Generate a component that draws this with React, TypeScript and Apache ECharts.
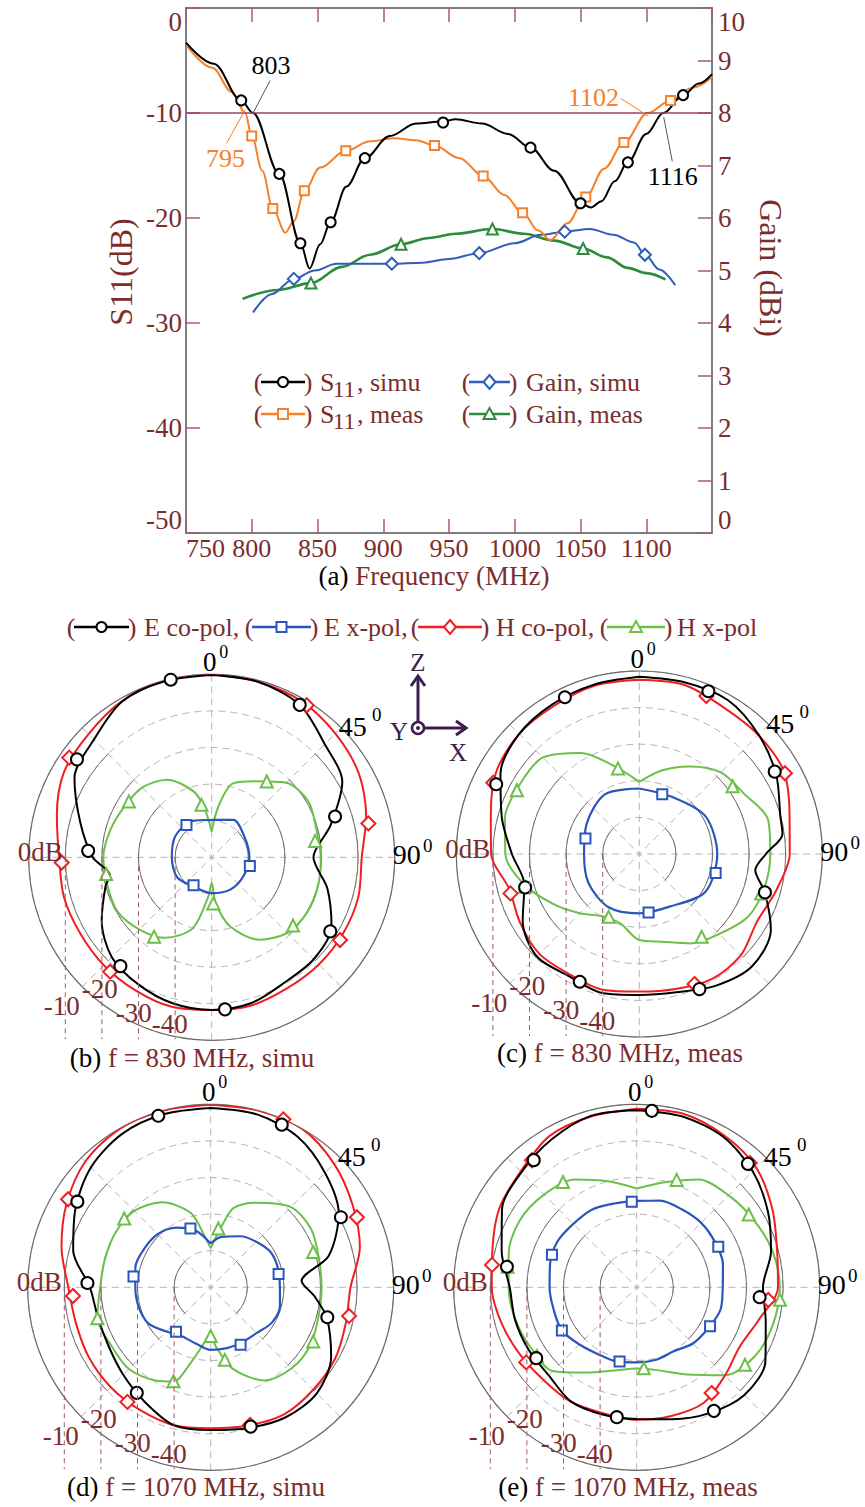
import React, { useEffect, useRef } from 'react';
import * as echarts from 'echarts';

const FONT = '"Liberation Serif", "Times New Roman", Times, serif';
const MAROON = '#7B2D2D';
const TICK = '#A25C72';
const FRAME = '#7F7F7F';
const REF_LINE = '#9C4463';
const C_BLACK = '#000000';
const C_ORANGE = '#F5812B';
const C_BLUE_A = '#2F5DB7';
const C_GREEN_A = '#2E8B3D';
const C_BLUE = '#2B55BD';
const C_RED = '#F01E23';
const C_GREEN = '#6CBF48';
const C_AXIS = '#3B1E4B';

// ---------- (a) S11 / Gain vs frequency ----------
const freqTicks = [750, 800, 850, 900, 950, 1000, 1050, 1100, 1150];
const s11SimuFreq = [750, 771, 792, 801, 821, 837, 844, 852, 860, 872, 886, 905, 925, 945, 955, 975, 995, 1012, 1030, 1050, 1058, 1066, 1076, 1086, 1100, 1113, 1128, 1140, 1150];
const s11SimuDb = [-3.3, -5.3, -8.8, -10, -15.8, -22.4, -24.8, -22.5, -20.4, -17.0, -14.3, -12.2, -11.0, -10.8, -10.6, -11.0, -12.0, -13.3, -15.5, -18.6, -19.0, -18.4, -16.5, -14.7, -12.0, -10, -8.3, -7.2, -6.3];
const s11MeasFreq = [750, 770, 785, 795, 800, 808, 816, 825.5, 832, 840, 852, 871.5, 890, 908, 925, 939, 958, 976, 992, 1006, 1018, 1027, 1040, 1054, 1068, 1083, 1101, 1118.5, 1135, 1150];
const s11MeasDb = [-3.5, -5.7, -8.0, -10, -12.2, -15.5, -19.1, -21.4, -20.3, -17.4, -15.2, -13.6, -12.7, -12.4, -12.6, -13.1, -14.3, -16.0, -17.8, -19.5, -21.2, -22.1, -20.5, -18.0, -15.3, -12.8, -10, -8.8, -7.6, -6.6];
const gainSimuFreq = [801, 815, 832, 848, 864.5, 885, 906.5, 930, 950, 973, 1000, 1020, 1038, 1057, 1075, 1091, 1099, 1110, 1122];
const gainSimuDbi = [4.2, 4.55, 4.84, 5.0, 5.13, 5.13, 5.13, 5.15, 5.22, 5.33, 5.52, 5.68, 5.74, 5.79, 5.68, 5.53, 5.3, 5.02, 4.72];
const gainMeasFreq = [793, 820, 845, 868.6, 890, 913.5, 935, 955, 983, 1007, 1030, 1052, 1070, 1086, 1100, 1114.6];
const gainMeasDbi = [4.46, 4.63, 4.76, 5.07, 5.3, 5.5, 5.62, 5.7, 5.79, 5.7, 5.57, 5.42, 5.25, 5.05, 4.95, 4.83];

const s11SimuMarkF = [792, 821, 837, 860, 886, 945.5, 1012, 1050, 1086, 1128];
const s11SimuMarkDb = [-8.8, -15.8, -22.4, -20.4, -14.3, -10.9, -13.3, -18.6, -14.7, -8.3];
const s11MeasMarkF = [800, 816, 840, 871.5, 939, 976, 1006, 1054, 1083, 1118.5];
const s11MeasMarkDb = [-12.2, -19.1, -17.4, -13.6, -13.1, -16.0, -19.5, -18.0, -12.8, -8.8];
const gainSimuMarkF = [832, 906.5, 973, 1038, 1099];
const gainSimuMarkDbi = [4.84, 5.13, 5.33, 5.74, 5.3];
const gainMeasMarkF = [845, 913.5, 983, 1052];
const gainMeasMarkDbi = [4.76, 5.5, 5.79, 5.42];

const refLevelDb = -10;
const annTexts = ['803', '795', '1102', '1116'];
const annFrom = [[801, -10], [795, -9.7], [1101.5, -10.3], [1113.3, -10.4]];
const annTo = [[814, -6.9], [780.7, -12.9], [1080.6, -8.6], [1119.8, -14.6]];
const annColors = [C_BLACK, C_ORANGE, C_ORANGE, C_BLACK];
const annLineColors = ['#555555', C_ORANGE, C_ORANGE, '#555555'];

// ---------- polar patterns (dB vs angle) ----------
const ang15 = [0, 15, 30, 45, 60, 75, 90, 105, 120, 135, 150, 165, 180, 195, 210, 225, 240, 255, 270, 285, 300, 315, 330, 345];
const ang30 = [0, 30, 60, 90, 120, 150, 180, 210, 240, 270, 300, 330];
const radialTicks = [-10, -20, -30, -40];

// (b) 830 MHz simu
const bEcoAng = [0, 15, 30, 45, 60, 75, 90, 105, 120, 135, 150, 165, 180, 195, 210, 225, 240, 255, 260, 270, 285, 300, 315, 330, 345];
const bEcoDb = [-0.2, -0.4, -1.9, -6.3, -8.8, -16.4, -22.2, -17.3, -12.2, -10.6, -10.4, -8.7, -8.3, -8.7, -9.9, -11.4, -15.3, -20, -21.8, -17.5, -12.8, -6.7, -4.5, -0.9, -0.2];
const bHcoDb = [0, -0.4, -0.8, -2.2, -3.7, -6.3, -9.0, -8.5, -8.5, -8.6, -8.7, -8.1, -8.3, -7.7, -8.1, -8.3, -8.5, -8.2, -8.3, -6.2, -3.4, -2.4, -0.8, 0];
const bHxAng = [0, 7.5, 16, 30, 45, 60, 75, 90, 105, 120, 135, 150, 165, 175, 180, 185, 195, 210, 225, 240, 255, 270, 285, 300, 315, 330, 345, 352, 360];
const bHxDb = [-43, -36, -29, -26, -21.2, -19.5, -20.4, -20.2, -19.9, -19.9, -20.8, -24, -30.4, -37.4, -43, -39.2, -29.9, -24.6, -22.1, -20.3, -20.5, -20.4, -21.3, -22.4, -23.1, -25.5, -31.5, -36.9, -43];
const bExDb = [-39.8, -38.2, -39.5, -39.7, -39.9, -39.8, -40.2, -40.6, -39.1, -39.1, -38.5, -38.7];
const bEcoMarkA = [347, 30, 71.7, 122, 175, 220, 273, 306];
const bEcoMarkDb = [-0.2, -1.9, -14.5, -11.8, -8.3, -11.2, -16.2, -4.5];
const bExMarkA = [322, 103, 213];
const bExMarkDb = [-38.8, -39.3, -40.9];
const bHcoMarkA = [32, 77.8, 122.8, 221.6, 268, 305];
const bHcoMarkDb = [-1.0, -6.2, -8.3, -8.2, -9.0, -2.5];
const bHxMarkA = [36, 81, 130, 178, 216, 261, 304, 349];
const bHxMarkDb = [-24.4, -21.4, -21, -37.4, -23.2, -20.8, -22.7, -35.4];

// (c) 830 MHz meas
const cEcoAng = [0, 15, 30, 45, 60, 75, 82, 90, 98, 107, 120, 135, 150, 165, 180, 195, 210, 225, 240, 255, 270, 285, 300, 315, 330, 345];
const cEcoDb = [-1.6, -1.5, -1.5, -3.9, -6.8, -10.1, -10.5, -15.4, -18, -14.1, -8.5, -6.5, -8.4, -10.9, -11.5, -10.7, -11.5, -10.4, -13.2, -17.5, -15.2, -11.1, -6.2, -3.6, -2.7, -2.1];
const cHcoDb = [-2.4, -2.2, -3.8, -4.0, -4.5, -7.5, -8.9, -11.3, -12.9, -10.8, -10.5, -11.8, -12.4, -11.6, -12.0, -11.4, -12.4, -13.2, -9.5, -8.0, -4.9, -3.6, -3.3, -2.4];
const cHxDb = [-30.3, -26.4, -22.4, -18.5, -17, -13.6, -14.2, -14.6, -15.7, -19.1, -21.8, -25.2, -26.5, -30.3, -30.3, -27.1, -22.8, -17.5, -13.4, -12, -12.2, -12.7, -18.1, -25.4];
const cExDb = [-32.1, -32, -29.2, -28.7, -29.2, -33.4, -33.8, -33.2, -34, -34.9, -33.4, -31.2];
const cEcoMarkA = [23, 58.7, 107, 156, 205, 253.7, 296, 334.6];
const cEcoMarkDb = [-1.7, -6.7, -14.1, -9.6, -11.5, -17.5, -6.5, -2.6];
const cExMarkA = [21, 104, 171, 286];
const cExMarkDb = [-32.5, -28.5, -33.8, -34.7];
const cHcoMarkA = [23, 61, 157, 253, 296];
const cHcoMarkDb = [-3.1, -4.5, -11.4, -13.2, -5.6];
const cHxMarkA = [54, 108, 143, 206, 254, 297.5, 346];
const cHxMarkDb = [-18.5, -15, -21.7, -30.9, -17.5, -12.3, -25.9];

// (d) 1070 MHz simu
const dEcoAng = [0, 15, 30, 45, 60, 75, 86, 95, 105, 120, 135, 150, 165, 180, 195, 210, 225, 240, 255, 270, 285, 300, 315, 330, 345];
const dEcoDb = [-1.0, -1.1, -2.5, -5.8, -9.6, -16.6, -25.1, -21.5, -17.1, -12, -9.0, -9.0, -10.2, -11, -11, -13.9, -16.2, -17.8, -18.1, -17, -11.1, -7.3, -3.7, -1.6, -1.0];
const dHcoDb = [-0.1, 0, 0, -2.3, -5.2, -7.8, -11.8, -11.8, -10.8, -10.4, -9.9, -10.9, -11.5, -11, -11.3, -11.4, -11.6, -11.9, -11.1, -7.8, -4.5, -1.5, -0.1, 0];
const dHxAng = [0, 10, 16, 27, 45, 60, 75, 90, 105, 120, 135, 150, 165, 175, 180, 185, 195, 201.6, 210, 225, 240, 255, 270, 285, 300, 315, 330, 345, 355, 360];
const dHxDb = [-39.3, -33.2, -27.5, -24.1, -19, -18.3, -19.4, -19.7, -19.5, -18.5, -18.7, -20.6, -27, -33.7, -37, -35.5, -28.5, -22.3, -20.5, -18.4, -18.5, -17.9, -19.8, -20.1, -20, -20.5, -23.2, -29, -37, -39.3];
const dExAng = [0, 12, 30, 45, 60, 75, 90, 105, 120, 135, 150, 165, 180, 195, 210, 225, 240, 255, 270, 285, 300, 315, 330, 345, 360];
const dExDb = [-38, -35.9, -33.9, -32.4, -31, -30.9, -31.1, -30.4, -30.7, -32.3, -32.7, -32.8, -32.9, -34.1, -34.5, -32.9, -30.3, -29.6, -29.4, -28.7, -29, -29.5, -31.2, -33.9, -38];
const dEcoMarkA = [343, 23.6, 61.7, 104.4, 164, 215, 272, 302.7];
const dEcoMarkDb = [-1, -1.5, -9.6, -17.1, -10.4, -14.8, -16.3, -6.7];
const dExMarkA = [79, 152.5, 218, 278, 341];
const dExMarkDb = [-31.1, -32.3, -34.6, -28.7, -33];
const dHcoMarkA = [23.4, 64.4, 101.7, 164, 216, 266.4, 301.7];
const dHcoMarkDb = [0, -5.7, -11.4, -10.9, -11.3, -12.3, -4.2];
const dHxMarkA = [7.4, 71, 117.9, 169, 180, 201.6, 254.7, 308.5];
const dHxMarkDb = [-33.8, -20.4, -18.3, -29.8, -36.7, -22.4, -17.9, -19.8];

// (e) 1070 MHz meas
const eEcoDb = [-1.6, -1.7, -2.6, -5.2, -8.6, -12, -15.5, -13.5, -9.4, -8.4, -10.3, -12.7, -14, -14, -14, -16, -15.9, -15.6, -15.3, -11.8, -7.5, -5.5, -3.4, -1.5];
const eHcoDb = [-1.2, -0.9, -2.1, -3.8, -7.2, -10.3, -11.4, -15.5, -17.5, -15.9, -13.5, -13.6, -13.8, -14.4, -13.9, -14.1, -13.2, -11.8, -10.4, -9.2, -6.7, -5.2, -2.3, -1.7];
const eHxDb = [-23, -20.3, -16, -14.5, -13.1, -11.6, -10.9, -11.4, -12.6, -16, -22.5, -26.5, -27.8, -26.5, -23.1, -17.6, -16.7, -15.7, -15, -13.8, -13.2, -14.2, -16, -20];
const eExDb = [-26.4, -25.5, -25.4, -25.1, -25.3, -25.6, -26.5, -26.3, -27.5, -28.3, -29.8, -29.5, -29.5, -29, -28.9, -27.9, -26.4, -26.5, -26.2, -25.5, -25, -25.5, -25.5, -26.3];
const eEcoMarkA = [4.9, 42, 94.6, 148, 188.7, 234.8, 279, 321];
const eEcoMarkDb = [-1.6, -4.6, -16.3, -10.2, -14.1, -16.4, -14.1, -5.3];
const eExMarkA = [63.5, 118, 193, 240, 291, 356.7];
const eExMarkDb = [-25.1, -27.3, -29.2, -26.4, -25.2, -26.6];
const eHcoMarkA = [42.3, 95.5, 144.7, 235.8, 278.8, 320.5];
const eHcoMarkDb = [-4.1, -13.9, -14.6, -13.5, -10, -5];
const eHxMarkA = [20.4, 57, 95, 125.6, 175, 235.5, 279, 325];
const eHxMarkDb = [-18.7, -13.5, -10.7, -13.6, -27.8, -16.9, -14.3, -14.9];

const plots = [
  { tag: '(b)', cap: 'f = 830 MHz, simu', eco: [bEcoAng, bEcoDb], ex: [ang30, bExDb], hco: [ang15, bHcoDb], hx: [bHxAng, bHxDb],
    ecoM: [bEcoMarkA, bEcoMarkDb], exM: [bExMarkA, bExMarkDb], hcoM: [bHcoMarkA, bHcoMarkDb], hxM: [bHxMarkA, bHxMarkDb] },
  { tag: '(c)', cap: 'f = 830 MHz, meas', eco: [cEcoAng, cEcoDb], ex: [ang30, cExDb], hco: [ang15, cHcoDb], hx: [ang15, cHxDb],
    ecoM: [cEcoMarkA, cEcoMarkDb], exM: [cExMarkA, cExMarkDb], hcoM: [cHcoMarkA, cHcoMarkDb], hxM: [cHxMarkA, cHxMarkDb] },
  { tag: '(d)', cap: 'f = 1070 MHz, simu', eco: [dEcoAng, dEcoDb], ex: [dExAng, dExDb], hco: [ang15, dHcoDb], hx: [dHxAng, dHxDb],
    ecoM: [dEcoMarkA, dEcoMarkDb], exM: [dExMarkA, dExMarkDb], hcoM: [dHcoMarkA, dHcoMarkDb], hxM: [dHxMarkA, dHxMarkDb] },
  { tag: '(e)', cap: 'f = 1070 MHz, meas', eco: [ang15, eEcoDb], ex: [ang15, eExDb], hco: [ang15, eHcoDb], hx: [ang15, eHxDb],
    ecoM: [eEcoMarkA, eEcoMarkDb], exM: [eExMarkA, eExMarkDb], hcoM: [eHcoMarkA, eHcoMarkDb], hxM: [eHxMarkA, eHxMarkDb] },
];

// layout
const polarCenters = [[211.7, 857.3], [639.3, 854], [210.7, 1287.3], [636.7, 1287.3]];
const captionCenters = [[192, 1058], [620, 1053], [196, 1487], [628, 1487]];
const R = 183;

const zip = (xs: number[], ys: number[]) => xs.map((x, i) => [x, ys[i]]);
const polarPts = (angles: number[], vals: number[]) => {
  const d = angles.map((a, i) => [vals[i], a]);
  if (angles[angles.length - 1] !== 360) d.push([vals[0], 360]);
  return d;
};

function buildOption() {
  const series: any[] = [];
  const mkLine = (xs: number[], ys: number[], color: string, width: number, yIdx: number, extra: any = {}) => ({
    type: 'line', xAxisIndex: 0, yAxisIndex: yIdx, data: zip(xs, ys), symbol: 'none', smooth: 0.35, smoothMonotone: 'x',
    lineStyle: { color, width }, silent: true, z: 3, ...extra,
  });
  const mkMarks = (xs: number[], ys: number[], color: string, symbol: string, size: number, yIdx: number) => ({
    type: 'scatter', xAxisIndex: 0, yAxisIndex: yIdx, data: zip(xs, ys), symbol, symbolSize: size, silent: true, z: 6,
    itemStyle: { color: '#fff', borderColor: color, borderWidth: 2, opacity: 1 },
  });

  const mlData: any[] = [
    [{ coord: [750, refLevelDb], symbol: 'none', lineStyle: { color: REF_LINE, width: 1.5, type: 'solid' }, label: { show: false } },
     { coord: [1150, refLevelDb], symbol: 'none' }],
  ];
  annTexts.forEach((t, i) => {
    mlData.push([
      { coord: annFrom[i], symbol: 'none', lineStyle: { color: annLineColors[i], width: 1, type: 'solid' },
        label: { show: true, formatter: t, position: 'end', color: annColors[i], fontSize: 26, fontFamily: FONT, distance: 2 } },
      { coord: annTo[i], symbol: 'arrow' },
    ]);
  });

  series.push(mkLine(gainMeasFreq, gainMeasDbi, C_GREEN_A, 2.6, 1));
  series.push(mkLine(gainSimuFreq, gainSimuDbi, C_BLUE_A, 2, 1));
  series.push(mkLine(s11MeasFreq, s11MeasDb, C_ORANGE, 2, 0));
  series.push(mkLine(s11SimuFreq, s11SimuDb, C_BLACK, 2, 0, {
    markLine: { silent: true, animation: false, symbol: ['none', 'arrow'], symbolSize: [0, 9], label: { show: false }, data: mlData },
  }));
  series.push(mkMarks(gainMeasMarkF, gainMeasMarkDbi, C_GREEN_A, 'triangle', 11, 1));
  series.push(mkMarks(gainSimuMarkF, gainSimuMarkDbi, C_BLUE_A, 'diamond', 12, 1));
  series.push(mkMarks(s11MeasMarkF, s11MeasMarkDb, C_ORANGE, 'rect', 9, 0));
  series.push(mkMarks(s11SimuMarkF, s11SimuMarkDb, C_BLACK, 'circle', 10, 0));

  // polar series
  const curveDefs = [
    { key: 'hx', color: C_GREEN, symbol: 'triangle', size: 12, width: 2 },
    { key: 'ex', color: C_BLUE, symbol: 'rect', size: 10, width: 2.2 },
    { key: 'hco', color: C_RED, symbol: 'diamond', size: 14, width: 2 },
    { key: 'eco', color: C_BLACK, symbol: 'circle', size: 12, width: 2 },
  ];
  plots.forEach((p: any, pi) => {
    curveDefs.forEach((c) => {
      const [a, v] = p[c.key];
      series.push({ type: 'line', coordinateSystem: 'polar', polarIndex: pi, data: polarPts(a, v), symbol: 'none', smooth: 0.3,
        lineStyle: { color: c.color, width: c.width }, silent: true, z: 3 });
    });
    curveDefs.forEach((c) => {
      const [a, v] = p[c.key + 'M'];
      series.push({ type: 'scatter', coordinateSystem: 'polar', polarIndex: pi, data: a.map((ang: number, i: number) => [v[i], ang]),
        symbol: c.symbol, symbolSize: c.size, silent: true, z: 6,
        itemStyle: { color: '#fff', borderColor: c.color, borderWidth: 2, opacity: 1 } });
    });
  });

  const polar = polarCenters.map(([x, y]) => ({ center: [x, y], radius: R }));
  const angleAxis = polarCenters.map((_, i) => ({
    polarIndex: i, type: 'value', min: 0, max: 360, interval: 45, startAngle: 90, clockwise: true,
    axisLine: { show: true, lineStyle: { color: '#6a6a6a', width: 1.2 } }, axisTick: { show: false }, axisLabel: { show: false },
    splitLine: { show: true, lineStyle: { color: '#b4b4b4', type: [7, 5], width: 1 } },
  }));
  const radiusAxis = polarCenters.map((_, i) => ({
    polarIndex: i, type: 'value', min: -50, max: 0, interval: 10,
    axisLine: { show: false }, axisTick: { show: false }, axisLabel: { show: false },
    splitLine: { show: true, lineStyle: { color: '#b4b4b4', type: [7, 5], width: 1 } },
  }));

  // ---------- graphic decorations ----------
  const g: any[] = [];
  const txt = (x: number, y: number, text: string, size: number, fill: string, align = 'center', more: any = {}) =>
    g.push({ type: 'text', x, y, silent: true, z: 50, style: { text, fontSize: size, fontFamily: FONT, fill, align, verticalAlign: 'middle' }, ...more });
  const rich = (x: number, y: number, k: string, m: string, size: number) =>
    g.push({ type: 'text', x, y, silent: true, z: 50, style: {
      text: `{k|${k}} {m|${m}}`, fontSize: size, fontFamily: FONT, fill: '#000', align: 'center', verticalAlign: 'middle',
      rich: { k: { fill: '#000', fontSize: size, fontFamily: FONT }, m: { fill: MAROON, fontSize: size, fontFamily: FONT } } } });
  const symbolShape = (kind: string, cx: number, cy: number, color: string, s = 6) => {
    const style = { fill: '#fff', stroke: color, lineWidth: 2 };
    if (kind === 'circle') return { type: 'circle', z: 52, silent: true, shape: { cx, cy, r: s - 1 }, style };
    if (kind === 'rect') return { type: 'rect', z: 52, silent: true, shape: { x: cx - s + 1, y: cy - s + 1, width: 2 * s - 2, height: 2 * s - 2 }, style };
    if (kind === 'diamond') return { type: 'polygon', z: 52, silent: true, shape: { points: [[cx, cy - s - 1], [cx + s, cy], [cx, cy + s + 1], [cx - s, cy]] }, style };
    return { type: 'polygon', z: 52, silent: true, shape: { points: [[cx, cy - s], [cx + s, cy + s - 1], [cx - s, cy + s - 1]] }, style };
  };
  const legendIcon = (x0: number, x1: number, y: number, color: string, kind: string, size: number) => {
    txt(x0, y, '(', size, MAROON);
    g.push({ type: 'line', z: 51, silent: true, shape: { x1: x0 + 3, y1: y, x2: x1 - 3, y2: y }, style: { stroke: color, lineWidth: 2.6 } });
    g.push(symbolShape(kind, (x0 + x1) / 2, y, color));
    txt(x1, y, ')', size, MAROON);
  };

  // (a) axis titles and caption
  txt(121, 272, 'S11(dB)', 32, MAROON, 'center', { rotation: Math.PI / 2 });
  txt(771, 268, 'Gain (dBi)', 32, MAROON, 'center', { rotation: -Math.PI / 2 });
  rich(434, 576, '(a)', 'Frequency (MHz)', 27);

  // (a) legend
  const lg = [
    { x0: 258, x1: 308, y: 382, color: C_BLACK, kind: 'circle', sub: true, label: ', simu', tx: 320 },
    { x0: 258, x1: 308, y: 414, color: C_ORANGE, kind: 'rect', sub: true, label: ', meas', tx: 320 },
    { x0: 466, x1: 513, y: 382, color: C_BLUE_A, kind: 'diamond', sub: false, label: 'Gain, simu', tx: 526 },
    { x0: 466, x1: 513, y: 414, color: C_GREEN_A, kind: 'triangle', sub: false, label: 'Gain, meas', tx: 526 },
  ];
  lg.forEach((l) => {
    legendIcon(l.x0, l.x1, l.y, l.color, l.kind, 26);
    if (l.sub) {
      txt(l.tx, l.y, 'S', 26, MAROON, 'left');
      txt(l.tx + 13, l.y + 7, '11', 23, MAROON, 'left');
      txt(l.tx + 37, l.y, l.label, 26, MAROON, 'left');
    } else {
      txt(l.tx, l.y, l.label, 26, MAROON, 'left');
    }
  });

  // polar legend
  const pl = [
    { x0: 71, x1: 132, color: C_BLACK, kind: 'circle', label: 'E co-pol,', tx: 144 },
    { x0: 249, x1: 314, color: C_BLUE, kind: 'rect', label: 'E x-pol,', tx: 324 },
    { x0: 415, x1: 485, color: C_RED, kind: 'diamond', label: 'H co-pol,', tx: 496 },
    { x0: 604, x1: 668, color: C_GREEN, kind: 'triangle', label: 'H x-pol', tx: 677 },
  ];
  pl.forEach((l) => {
    legendIcon(l.x0, l.x1, 627, l.color, l.kind, 26);
    txt(l.tx, 627, l.label, 26, MAROON, 'left');
  });

  // coordinate icon
  g.push({ type: 'line', z: 51, silent: true, shape: { x1: 418, y1: 722, x2: 418, y2: 676 }, style: { stroke: C_AXIS, lineWidth: 3 } });
  g.push({ type: 'polyline', z: 51, silent: true, shape: { points: [[411, 686], [418, 676], [425, 686]] }, style: { stroke: C_AXIS, lineWidth: 3, fill: null } });
  g.push({ type: 'circle', z: 51, silent: true, shape: { cx: 418, cy: 728, r: 6 }, style: { stroke: C_AXIS, lineWidth: 2.5, fill: '#fff' } });
  g.push({ type: 'circle', z: 52, silent: true, shape: { cx: 418, cy: 728, r: 2 }, style: { fill: C_AXIS } });
  g.push({ type: 'line', z: 51, silent: true, shape: { x1: 424, y1: 728, x2: 465, y2: 728 }, style: { stroke: C_AXIS, lineWidth: 3 } });
  g.push({ type: 'polyline', z: 51, silent: true, shape: { points: [[456, 721], [466, 728], [456, 735]] }, style: { stroke: C_AXIS, lineWidth: 3, fill: null } });
  txt(418, 662, 'Z', 25, C_AXIS);
  txt(399, 731, 'Y', 25, C_AXIS);
  txt(458, 752, 'X', 25, C_AXIS);

  // polar decorations
  polarCenters.forEach(([cx, cy], i) => {
    // solid side arcs on grid circles (left/right quadrants)
    radialTicks.forEach((t) => {
      const r = (R * (t + 50)) / 50;
      [[-Math.PI / 4, Math.PI / 4], [(3 * Math.PI) / 4, (5 * Math.PI) / 4]].forEach(([s, e]) => {
        g.push({ type: 'arc', z: 1, silent: true, shape: { cx, cy, r, startAngle: s, endAngle: e, clockwise: true },
          style: { stroke: '#6e6e6e', lineWidth: 1, fill: null } });
      });
    });
    txt(cx - 2, cy - 195, '0', 27, '#000');
    txt(cx + 12, cy - 205, '0', 18, '#000');
    txt(cx + 141, cy - 131, '45', 28, '#000');
    txt(cx + 165, cy - 143, '0', 19, '#000');
    txt(cx + 195, cy - 3, '90', 28, '#000');
    txt(cx + 216, cy - 12, '0', 19, '#000');
    txt(cx - 149, cy - 5, '0dB', 27, MAROON, 'right');
    const labelOff = [[-150, 149], [-112, 132], [-78, 156], [-42, 167]];
    radialTicks.forEach((t, k) => {
      const x = cx - (R * (t + 50)) / 50;
      g.push({ type: 'line', z: 40, silent: true, shape: { x1: x, y1: cy, x2: x, y2: cy + 182 },
        style: { stroke: '#9E5A6A', lineWidth: 1, lineDash: [5, 4] } });
      txt(cx + labelOff[k][0], cy + labelOff[k][1], String(t), 27, MAROON);
    });
    rich(captionCenters[i][0], captionCenters[i][1], plots[i].tag, plots[i].cap, 27);
  });

  const axisTick = { show: true, inside: true, length: 14, lineStyle: { color: TICK, width: 1.5 } };
  const axisLabelBase = { color: MAROON, fontSize: 26, fontFamily: FONT, formatter: (v: number) => String(v) };

  return {
    animation: false,
    backgroundColor: '#ffffff',
    textStyle: { fontFamily: FONT },
    grid: [{ left: 186, top: 8, width: 526, height: 525, containLabel: false, show: false }],
    xAxis: [
      { gridIndex: 0, type: 'value', min: freqTicks[0], max: freqTicks[freqTicks.length - 1], interval: 50, position: 'bottom',
        axisLine: { show: true, onZero: false, lineStyle: { color: FRAME, width: 2 } }, axisTick,
        axisLabel: { ...axisLabelBase, margin: 2, alignMinLabel: 'left', alignMaxLabel: 'right' }, splitLine: { show: false } },
      { gridIndex: 0, type: 'value', min: freqTicks[0], max: freqTicks[freqTicks.length - 1], interval: 50, position: 'top',
        axisLine: { show: true, onZero: false, lineStyle: { color: FRAME, width: 2 } }, axisTick,
        axisLabel: { show: false }, splitLine: { show: false } },
    ],
    yAxis: [
      { gridIndex: 0, type: 'value', min: -50, max: 0, interval: 10, position: 'left',
        axisLine: { show: true, onZero: false, lineStyle: { color: FRAME, width: 2 } }, axisTick,
        axisLabel: { ...axisLabelBase, fontSize: 27, margin: 4, verticalAlignMinLabel: 'bottom', verticalAlignMaxLabel: 'top' }, splitLine: { show: false } },
      { gridIndex: 0, type: 'value', min: 0, max: 10, interval: 1, position: 'right',
        axisLine: { show: true, onZero: false, lineStyle: { color: FRAME, width: 2 } }, axisTick,
        axisLabel: { ...axisLabelBase, fontSize: 27, margin: 6, verticalAlignMinLabel: 'bottom', verticalAlignMaxLabel: 'top' }, splitLine: { show: false } },
    ],
    polar,
    angleAxis,
    radiusAxis,
    series,
    graphic: { elements: g },
  };
}

export default function App() {
  const ref = useRef<HTMLDivElement>(null);
  useEffect(() => {
    const chart = echarts.init(ref.current!, undefined, { renderer: 'svg' });
    chart.setOption(buildOption() as any);
    return () => chart.dispose();
  }, []);
  return <div ref={ref} style={{ position: 'absolute', left: 0, top: 0, width: 865, height: 1507, background: '#fff' }} />;
}
